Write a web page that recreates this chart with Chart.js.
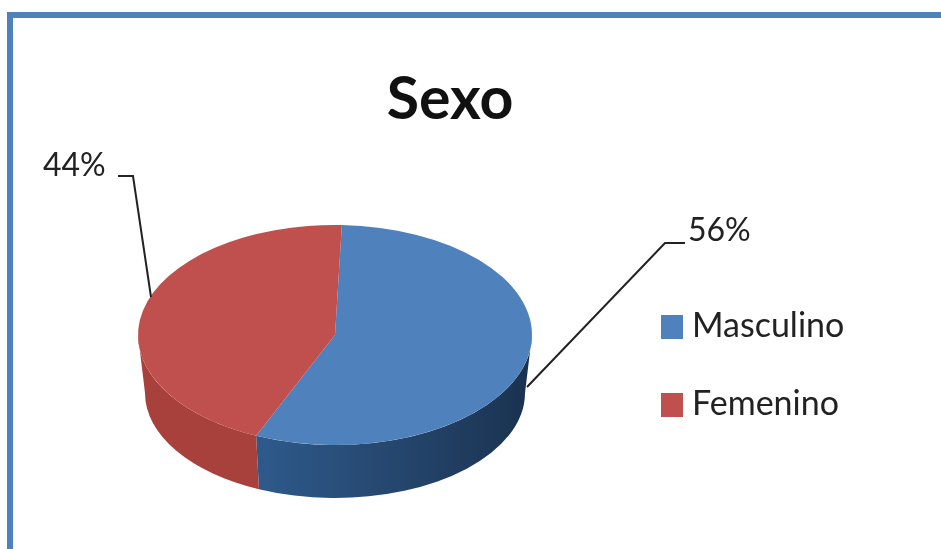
<!DOCTYPE html>
<html>
<head>
<meta charset="utf-8">
<title>Sexo</title>
<script src="https://cdn.jsdelivr.net/npm/chart.js@4"></script>
<style>
    html, body { margin: 0; padding: 0; background: #fff; overflow: hidden; }
    #wrap { position: relative; width: 941px; height: 549px; font-family: Lato, sans-serif; color: #222; }
    #frame { position: absolute; left: 7px; top: 12px; width: 934px; height: 537px;
             box-sizing: border-box; border-left: 6px solid #4f81bd; border-top: 6px solid #4f81bd; }
    #chartBox { position: absolute; left: 0; top: 0; width: 900px; height: 549px; }
    .pct { position: absolute; font-size: 32px; line-height: 36px; }
    .leg { position: absolute; left: 661px; font-size: 34px; line-height: 38px; white-space: nowrap; }
    .leg i { display: inline-block; width: 22px; height: 24px; margin-right: 9px; vertical-align: -2px; }
</style>
</head>
<body>
<div id="wrap">
    <div id="frame"></div>
    <div id="chartBox"><canvas id="pie"></canvas></div>
</div>
<script>
// Data
const categories = ['Masculino', 'Femenino'];
const shares = [56, 44];
const chartTitle = 'Sexo';

const topColors = ['#4f81bd', '#c0504d'];

// Fake 3D look: where the ellipse goes on the page
const pie3d = { cx: 335, cy: 335, rx: 197, ry: 110, baseCy: 393, baseRx: 190, baseRy: 105 };

// Shade of the side wall, left to right
function wallFill(ctx, i) {
    const g = ctx.createLinearGradient(240, 0, 530, 0);
    if (i === 0) {
        g.addColorStop(0, '#2f5c8f');
        g.addColorStop(0.5, '#264870');
        g.addColorStop(1, '#1a3250');
    } else {
        g.addColorStop(0, '#a8403c');
        g.addColorStop(1, '#a8403c');
    }
    return g;
}

const tiltPlugin = {
    id: 'tilt',
    beforeDatasetDraw(chart, args) {
        const ctx = chart.ctx;
        const p = pie3d;
        // side wall, only the part of each slice facing the viewer
        args.meta.data.forEach((arc, i) => {
            let a0 = arc.startAngle, a1 = arc.endAngle;
            a0 = Math.max(a0, 0);
            a1 = Math.min(a1, Math.PI);
            if (a1 <= a0) return;
            ctx.beginPath();
            ctx.ellipse(p.cx, p.cy, p.rx, p.ry, 0, a0, a1);
            ctx.ellipse(p.cx, p.baseCy, p.baseRx, p.baseRy, 0, a1, a0, true);
            ctx.closePath();
            ctx.fillStyle = wallFill(ctx, i);
            ctx.fill();
        });
        // squash the real pie into the top face
        const first = args.meta.data[0];
        const r = first.outerRadius;
        ctx.save();
        ctx.translate(p.cx, p.cy);
        ctx.scale(p.rx / r, p.ry / r);
        ctx.translate(-first.x, -first.y);
    },
    afterDatasetDraw(chart) {
        chart.ctx.restore();
    },
    afterDraw(chart) {
        // leader lines
        const ctx = chart.ctx;
        ctx.save();
        ctx.strokeStyle = '#222';
        ctx.lineWidth = 2;
        ctx.beginPath();
        ctx.moveTo(527, 387);
        ctx.lineTo(665, 243);
        ctx.lineTo(685, 243);
        ctx.moveTo(118, 176);
        ctx.lineTo(133, 176);
        ctx.lineTo(151, 297);
        ctx.stroke();
        ctx.restore();
    }
};

new Chart(document.getElementById('pie'), {
    type: 'pie',
    data: {
        labels: categories,
        datasets: [{
            data: shares,
            backgroundColor: topColors,
            borderWidth: 0
        }]
    },
    options: {
        responsive: true,
        maintainAspectRatio: false,
        animation: false,
        rotation: 2,
        plugins: {
            legend: { display: false },
            tooltip: { enabled: false },
            title: {
                display: true,
                text: chartTitle,
                color: '#111',
                font: { family: 'Lato', size: 59, weight: 'bold' },
                padding: { top: 65, bottom: 0 }
            }
        }
    },
    plugins: [tiltPlugin]
});

// Legend and percent labels as plain text
const wrap = document.getElementById('wrap');
const legendTops = [305, 383];
categories.forEach((name, i) => {
    const row = document.createElement('div');
    row.className = 'leg';
    row.style.top = legendTops[i] + 'px';
    const box = document.createElement('i');
    box.style.background = topColors[i];
    row.appendChild(box);
    row.appendChild(document.createTextNode(name));
    wrap.appendChild(row);
});
const pctPos = [[688, 211], [43, 146]];
shares.forEach((v, i) => {
    const el = document.createElement('div');
    el.className = 'pct';
    el.style.left = pctPos[i][0] + 'px';
    el.style.top = pctPos[i][1] + 'px';
    el.textContent = v + '%';
    wrap.appendChild(el);
});
</script>
</body>
</html>
